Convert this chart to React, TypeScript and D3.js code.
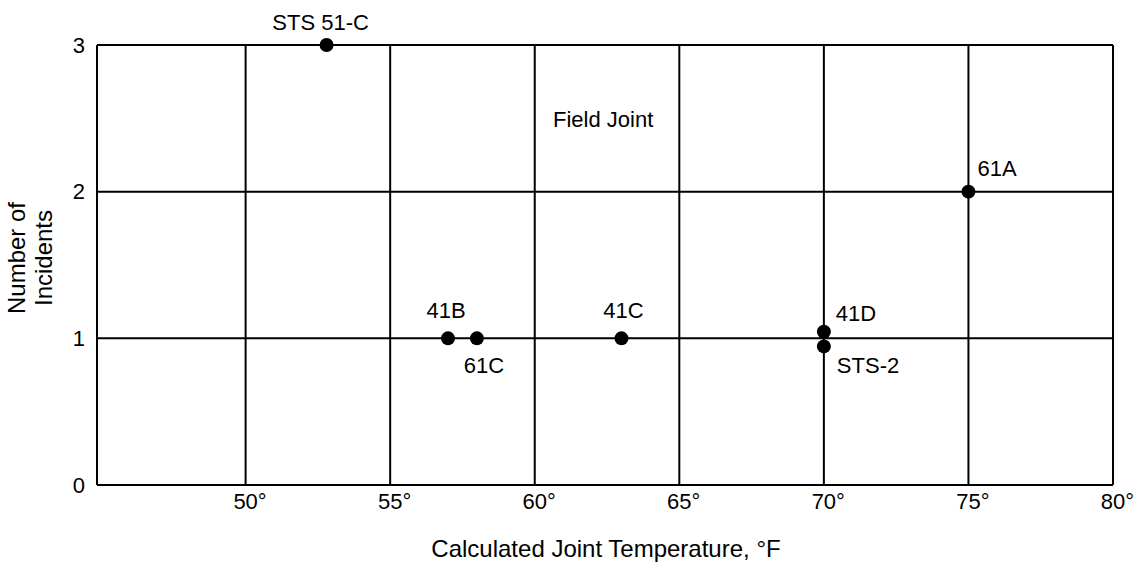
import React from "react";
import * as d3 from "d3";

const flights = ["STS 51-C", "41B", "61C", "41C", "41D", "STS-2", "61A"];
const temps = [52.8, 57, 58, 63, 70, 70, 75];
const incidents = [3, 1, 1, 1, 1.045, 0.945, 2];
const xTicks = [50, 55, 60, 65, 70, 75, 80];
const yTicks = [0, 1, 2, 3];
const annotation = "Field Joint";
const xTitle = "Calculated Joint Temperature, °F";
const yTitle = ["Number of", "Incidents"];

const W = 1137;
const H = 569;
const FONT = "'Liberation Sans', Arial, Helvetica, sans-serif";

const labelPos: Record<string, { dx: number; dy: number; anchor: string }> = {
  "STS 51-C": { dx: -6, dy: -15, anchor: "middle" },
  "41B": { dx: -2, dy: -20, anchor: "middle" },
  "61C": { dx: 7, dy: 35, anchor: "middle" },
  "41C": { dx: 2, dy: -20, anchor: "middle" },
  "41D": { dx: 12, dy: -11, anchor: "start" },
  "STS-2": { dx: 13, dy: 27, anchor: "start" },
  "61A": { dx: 9, dy: -16, anchor: "start" },
};

export default function App() {
  const x = d3.scaleLinear().domain([44.86, 80]).range([97, 1113]);
  const y = d3.scaleLinear().domain([0, 3]).range([485, 45]);
  const [x0, x1] = x.range();
  const [yb, yt] = y.range();
  const fs = 22;

  const points = flights.map((f, i) => ({ f, t: temps[i], n: incidents[i] }));

  return (
    <svg
      width={W}
      height={H}
      style={{ position: "absolute", left: 0, top: 0, background: "#fff" }}
      fontFamily={FONT}
    >
      <rect x={0} y={0} width={W} height={H} fill="#fff" />
      {/* frame */}
      <line x1={x0} x2={x0} y1={yt} y2={yb} stroke="#000" strokeWidth={2} />
      {xTicks.map((t) => (
        <line key={"gx" + t} x1={x(t)} x2={x(t)} y1={yt} y2={yb} stroke="#000" strokeWidth={2} />
      ))}
      {yTicks.map((t) => (
        <line key={"gy" + t} x1={x0} x2={x1} y1={y(t)} y2={y(t)} stroke="#000" strokeWidth={2} />
      ))}
      {/* x tick labels */}
      {xTicks.map((t) => (
        <text key={"tx" + t} x={x(t) - fs * 0.556} y={509} fontSize={fs} fill="#000" textAnchor="start">
          {t + "°"}
        </text>
      ))}
      {/* y tick labels */}
      {yTicks.map((t) => (
        <text key={"ty" + t} x={85} y={y(t) + 7.5} fontSize={fs} fill="#000" textAnchor="end">
          {t}
        </text>
      ))}
      {/* axis titles */}
      <text x={606} y={557} fontSize={24} textAnchor="middle" fill="#000">
        {xTitle}
      </text>
      {yTitle.map((s, i) => (
        <text
          key={s}
          transform={`translate(${25 + i * 27},258) rotate(-90)`}
          fontSize={24}
          textAnchor="middle"
          fill="#000"
        >
          {s}
        </text>
      ))}
      <text x={553} y={127} fontSize={fs} fill="#000">
        {annotation}
      </text>
      {/* points */}
      {points.map((p) => (
        <circle key={"c" + p.f} cx={x(p.t)} cy={y(p.n)} r={7} fill="#000" />
      ))}
      {points.map((p) => {
        const o = labelPos[p.f];
        return (
          <text
            key={"l" + p.f}
            x={x(p.t) + o.dx}
            y={y(p.n) + o.dy}
            fontSize={fs}
            textAnchor={o.anchor}
            fill="#000"
          >
            {p.f}
          </text>
        );
      })}
    </svg>
  );
}
